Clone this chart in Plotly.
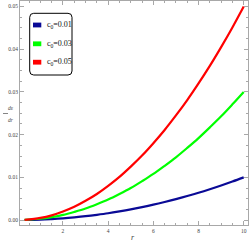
import plotly.graph_objects as go

r_vals = [0.3, 1, 1.5, 2, 2.5, 3, 3.5, 4, 4.5, 5, 5.5, 6, 6.5, 7, 7.5, 8, 8.5, 9, 9.5, 10]
red_vals = [0.00005, 0.0005, 0.0011, 0.002, 0.0031, 0.0045, 0.0061, 0.008, 0.0101, 0.0125,
            0.0151, 0.018, 0.0211, 0.0245, 0.0281, 0.032, 0.0361, 0.0405, 0.0451, 0.05]
green_vals = [0.00003, 0.0003, 0.00068, 0.0012, 0.0019, 0.0027, 0.0037, 0.0048, 0.0061, 0.0075,
              0.0091, 0.0108, 0.0127, 0.0147, 0.0169, 0.0192, 0.0217, 0.0243, 0.0271, 0.03]
blue_vals = [0.00001, 0.0001, 0.00023, 0.0004, 0.00063, 0.0009, 0.00123, 0.0016, 0.00203, 0.0025,
             0.00303, 0.0036, 0.00423, 0.0049, 0.00563, 0.0064, 0.00723, 0.0081, 0.00903, 0.01]
series_labels = ["c<sub>0</sub>=0.01", "c<sub>0</sub>=0.03", "c<sub>0</sub>=0.05"]
series_colors = ["#0a0a96", "#00ff00", "#ff0000"]
x_ticks = [2, 4, 6, 8, 10]
y_ticks = [0.0, 0.01, 0.02, 0.03, 0.04, 0.05]

fig = go.Figure()
for vals, col in zip([blue_vals, green_vals, red_vals], series_colors):
    fig.add_trace(go.Scatter(x=r_vals, y=vals, mode="lines",
                             line=dict(color=col, width=2.2, shape="spline"),
                             showlegend=False))

W, H = 249, 249
L, R, T, B = 20, 1, 1, 24
pw, ph = W - L - R, H - T - B

def px(x):
    return (x - L) / pw

def py(y):
    return (H - B - y) / ph

shapes = []
x0, x1, y0, y1 = px(29.7), px(72), py(75), py(13.3)
rx, ry = 4 / pw, 4 / ph
path = (f"M {x0+rx},{y0} L {x1-rx},{y0} Q {x1},{y0} {x1},{y0+ry} "
        f"L {x1},{y1-ry} Q {x1},{y1} {x1-rx},{y1} L {x0+rx},{y1} "
        f"Q {x0},{y1} {x0},{y1-ry} L {x0},{y0+ry} Q {x0},{y0} {x0+rx},{y0} Z")
shapes.append(dict(type="path", path=path, xref="paper", yref="paper",
                   line=dict(color="black", width=1), fillcolor="white", layer="above"))
annotations = []
rows = [25, 43.8, 62.2]
for lab, col, yc in zip(series_labels, series_colors, rows):
    shapes.append(dict(type="rect", xref="paper", yref="paper",
                       x0=px(33), x1=px(41.3), y0=py(yc + 2.4), y1=py(yc - 2.4),
                       fillcolor=col, line=dict(width=0), layer="above"))
    annotations.append(dict(text=lab, x=px(45), y=py(yc), xref="paper", yref="paper",
                            xanchor="left", yanchor="middle", showarrow=False,
                            font=dict(family="Liberation Serif", size=8, color="#111")))

annotations.append(dict(text="<i>d</i>ε", x=px(5.5), y=py(107.5), xref="paper", yref="paper",
                        showarrow=False, font=dict(family="Liberation Serif", size=5.5, color="#444")))
annotations.append(dict(text="<i>dr</i>", x=px(5.5), y=py(120), xref="paper", yref="paper",
                        showarrow=False, font=dict(family="Liberation Serif", size=5.5, color="#444")))
shapes.append(dict(type="line", xref="paper", yref="paper", x0=px(3), x1=px(8),
                   y0=py(113.5), y1=py(113.5), line=dict(color="#666", width=0.8)))
annotations.append(dict(text="<i>r</i>", x=px(133), y=py(244), xref="paper", yref="paper",
                        showarrow=False, font=dict(family="Liberation Serif", size=8, color="#444")))

axis_common = dict(showline=True, linecolor="#a8a8a8", linewidth=1, mirror="allticks",
                   ticks="inside", tickcolor="#a8a8a8", ticklen=4, showgrid=False, zeroline=False,
                   tickfont=dict(family="Liberation Serif", size=5.5, color="#444"))
fig.update_xaxes(range=[0.097, 10.19], tickvals=x_ticks, ticktext=[str(v) for v in x_ticks],
                 minor=dict(dtick=0.5, tick0=0, ticklen=2, tickcolor="#a8a8a8", ticks="inside"),
                 **axis_common)
fig.update_yaxes(range=[-0.00116, 0.0513], tickvals=y_ticks, ticktext=[f"{v:.2f}" for v in y_ticks],
                 minor=dict(dtick=0.0025, tick0=0, ticklen=2, tickcolor="#a8a8a8", ticks="inside"),
                 **axis_common)
fig.update_layout(width=W, height=H, margin=dict(l=L, r=R, t=T, b=B),
                  plot_bgcolor="white", paper_bgcolor="white",
                  shapes=shapes, annotations=annotations, showlegend=False)
fig.write_html("out.html", config={"displayModeBar": False})

with open("out.html", "r", encoding="utf-8") as f:
    html = f.read()
html = html.replace("<body>", '<body style="margin:0;padding:0;overflow:hidden">', 1)
html = html.replace("<head>", '<head><style>html,body{margin:0;padding:0;overflow:hidden}</style>', 1)
with open("out.html", "w", encoding="utf-8") as f:
    f.write(html)
